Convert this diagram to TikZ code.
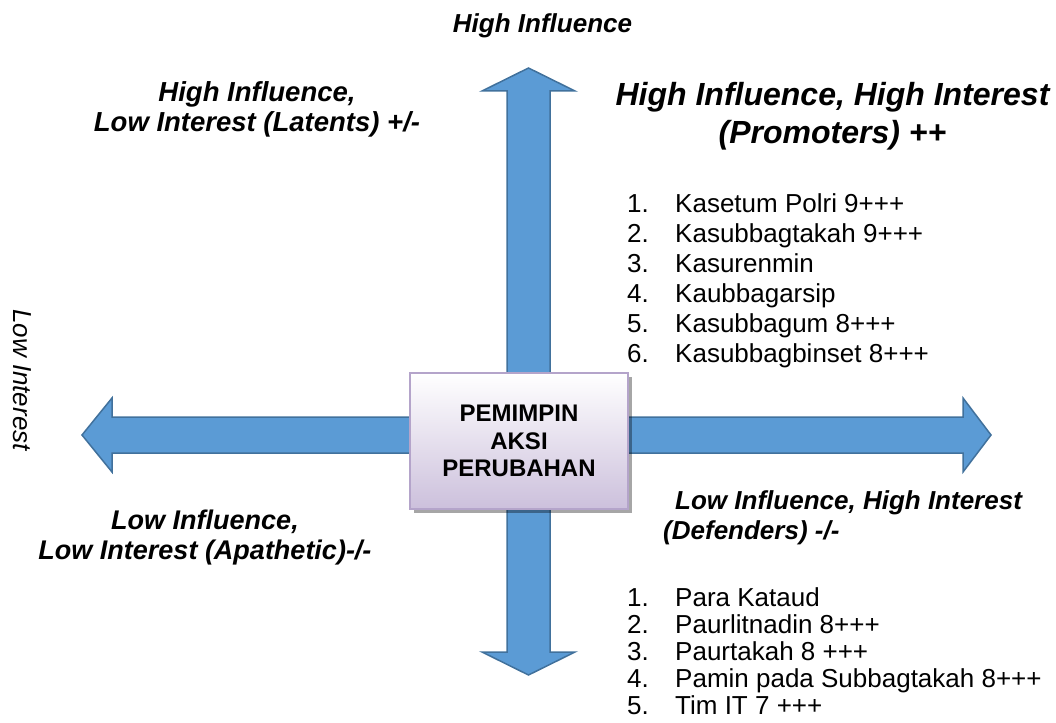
\documentclass[tikz,border=0pt]{standalone}
\usepackage{fontspec}
\setmainfont{Liberation Sans}
\usepackage{xcolor}
\definecolor{Col1}{RGB}{91,155,213}
\definecolor{Col2}{RGB}{65,113,156}
\definecolor{Col3}{RGB}{204,192,220}
\definecolor{Col4}{RGB}{180,164,202}
\usepackage{tikz}
\usetikzlibrary{shadows}
\tikzstyle{Arrow}=[fill=Col1,draw=Col2,line width=1.5pt,line join=miter]
\tikzstyle{Leader}=[draw=Col4,line width=1.3pt,top color=white,bottom color=Col3,
minimum width=218pt,minimum height=136pt,align=center,
font=\fontsize{24}{27.5}\selectfont\bfseries,
drop shadow={shadow xshift=4pt,shadow yshift=-4pt,fill=black,opacity=.35}]
\tikzstyle{Quad}=[inner sep=0pt,font=\fontsize{26}{30}\selectfont\bfseries\itshape]
\tikzstyle{Item}=[inner sep=0pt,anchor=base west,font=\fontsize{26}{30}\selectfont]

\begin{document}
\begin{tikzpicture}[x=1pt,y=-1pt]
    \useasboundingbox (0,0) rectangle (1056,722);
    % the two double arrows
    \draw[Arrow] (82,435) -- (112,398) -- (112,417) -- (963,417) -- (963,398)
        -- (991,435) -- (963,472) -- (963,453) -- (112,453) -- (112,472) -- cycle;
    \draw[Arrow] (528.5,68) -- (575,91) -- (550,91) -- (550,652) -- (575,652)
        -- (528.5,675) -- (482,652) -- (507,652) -- (507,91) -- (482,91) -- cycle;
    \node[Leader](leader)at(519,441){PEMIMPIN\\AKSI\\PERUBAHAN};
    % axis labels
    \node[Quad,anchor=base](hi)at(542.5,33){High Influence};
    \node[inner sep=0pt,rotate=-90,font=\fontsize{26}{30}\selectfont\itshape]
        (li)at(22,380){Low Interest};
    % quadrant titles
    \node[Quad,align=center,font=\fontsize{27.5}{30}\selectfont\bfseries\itshape]
        (latent)at(257,109){High Influence,\\Low Interest (Latents) +/-};
    \node[Quad,align=center,font=\fontsize{32}{38}\selectfont\bfseries\itshape]
        (promoter)at(832.5,116){High Influence, High Interest\\(Promoters) ++};
    \node[Quad,align=center,font=\fontsize{27}{30}\selectfont\bfseries\itshape]
        (apathetic)at(205,538){Low Influence,\\Low Interest (Apathetic)-/-};
    \node[Quad,align=left,anchor=west](defender)at(663,518)
        {\hspace*{12pt}Low Influence, High Interest\\(Defenders) -/-};
    % lists
    \foreach \t [count=\i] in {Kasetum Polri 9+++,Kasubbagtakah 9+++,Kasurenmin,
        Kaubbagarsip,Kasubbagum 8+++,Kasubbagbinset 8+++}
        \node[Item](p\i)at(627,{212+30*(\i-1)}){\makebox[48pt][l]{\i.}\t};
    \foreach \t [count=\i] in {Para Kataud,Paurlitnadin 8+++,Paurtakah 8 +++,
        Pamin pada Subbagtakah 8+++,Tim IT 7 +++}
        \node[Item](d\i)at(627,{606+27*(\i-1)}){\makebox[48pt][l]{\i.}\t};
\end{tikzpicture}
\end{document}
